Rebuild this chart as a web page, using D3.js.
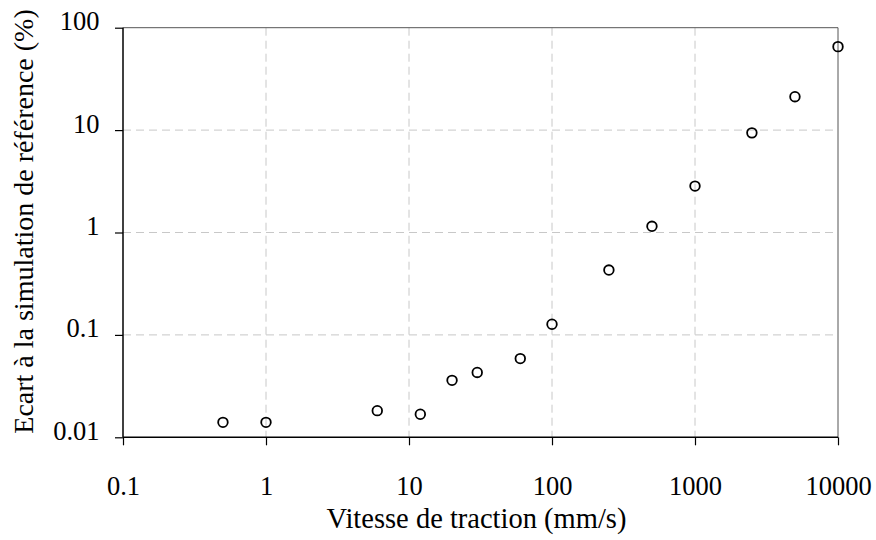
<!DOCTYPE html>
<html><head><meta charset="utf-8">
<script src="https://cdn.jsdelivr.net/npm/d3@7"></script>
</head><body style="margin:0;background:#fff"><svg id="c" width="876" height="540" style="display:block"></svg>
<script>
const speeds = [0.5, 1, 6, 12, 20, 30, 60, 100, 250, 500, 1000, 2500, 5000, 10000];
const ecarts = [0.014, 0.014, 0.0182, 0.0168, 0.036, 0.043, 0.0587, 0.127, 0.43, 1.15, 2.84, 9.4, 21.2, 65.3];
const xTicks = [0.1, 1, 10, 100, 1000, 10000];
const yTicks = [0.01, 0.1, 1, 10, 100];
const xTickLabels = ["0.1", "1", "10", "100", "1000", "10000"];
const yTickLabels = ["0.01", "0.1", "1", "10", "100"];
const xTitle = "Vitesse de traction (mm/s)";
const yTitle = "Ecart à la simulation de référence (%)";

const FONT = "'Liberation Serif', 'Times New Roman', Tinos, serif";
const L = 123, R = 838, T = 27.7, B = 437.3;
const svg = d3.select("#c");
const x = d3.scaleLog().domain([0.1, 10000]).range([L, R]);
const y = d3.scaleLog().domain([0.01, 100]).range([B, T]);

function serif(sel, size) {
  return sel.style("font-family", FONT, "important").style("font-size", size + "px", "important").style("fill", "#000");
}

// grid
svg.append("g").selectAll("line").data(xTicks.slice(1, -1)).join("line")
  .attr("x1", d => x(d)).attr("x2", d => x(d)).attr("y1", T).attr("y2", B)
  .attr("stroke", "#c8c8c8").attr("stroke-width", 1).attr("stroke-dasharray", "8,5");
svg.append("g").selectAll("line").data(yTicks.slice(1, -1)).join("line")
  .attr("y1", d => y(d)).attr("y2", d => y(d)).attr("x1", L).attr("x2", R)
  .attr("stroke", "#c8c8c8").attr("stroke-width", 1).attr("stroke-dasharray", "8,5");

// frame top/right
svg.append("line").attr("x1", L).attr("x2", R).attr("y1", T).attr("y2", T).attr("stroke", "#555").attr("stroke-width", 1);
svg.append("line").attr("x1", R).attr("x2", R).attr("y1", T).attr("y2", B).attr("stroke", "#555").attr("stroke-width", 1);

// axes
const xAxis = d3.axisBottom(x).tickValues(xTicks).tickSize(8).tickFormat((d, i) => xTickLabels[i]);
const gx = svg.append("g").attr("transform", `translate(0,${B})`).call(xAxis);
gx.attr("font-family", null).attr("font-size", null);
gx.select(".domain").attr("stroke", "#000").attr("stroke-width", 1.5).attr("d", `M${L},0H${R}`);
gx.selectAll(".tick line").attr("stroke", "#000").attr("stroke-width", 1.2);
serif(gx.selectAll(".tick text"), 26.5).attr("dy", 0).attr("y", 58);

const yAxis = d3.axisLeft(y).tickValues(yTicks).tickSize(8).tickFormat((d, i) => yTickLabels[i]);
const gy = svg.append("g").attr("transform", `translate(${L},0)`).call(yAxis);
gy.attr("font-family", null).attr("font-size", null);
gy.select(".domain").attr("stroke", "#000").attr("stroke-width", 1.5).attr("d", `M0,${T}V${B}`);
gy.selectAll(".tick line").attr("stroke", "#000").attr("stroke-width", 1.2);
serif(gy.selectAll(".tick text"), 26.5).attr("x", -23.5).attr("dy", 0).attr("y", 2);

// points
svg.append("g").selectAll("circle").data(speeds).join("circle")
  .attr("cx", (d) => x(d)).attr("cy", (d, i) => y(ecarts[i])).attr("r", 4.8)
  .attr("fill", "none").attr("stroke", "#000").attr("stroke-width", 1.8);

// titles
serif(svg.append("text"), 28.5).attr("x", (L + R) / 2 - 4).attr("y", 528).attr("text-anchor", "middle").text(xTitle);
serif(svg.append("text"), 28).attr("transform", `translate(33,221.5) rotate(-90)`).attr("text-anchor", "middle").text(yTitle);
</script></body></html>
